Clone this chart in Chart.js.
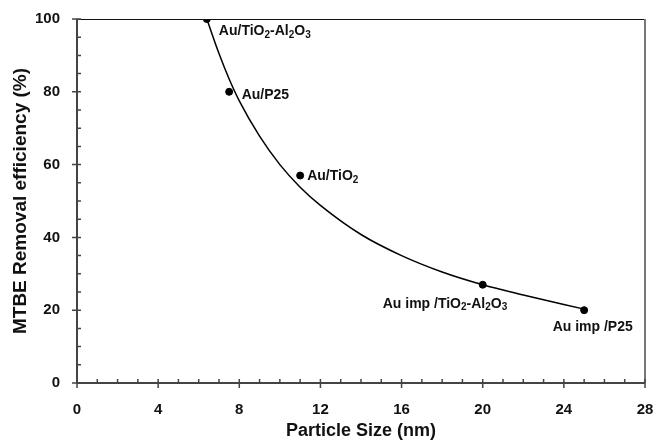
<!DOCTYPE html>
<html>
<head>
<meta charset="utf-8">
<script src="https://cdn.jsdelivr.net/npm/chart.js@4"></script>
<style>
	html, body { margin: 0; padding: 0; background: #fff; }
	#wrap { width: 657px; height: 442px; }
</style>
</head>
<body>
<div id="wrap"><canvas id="sizeChart" width="657" height="442"></canvas></div>
<script>
// measured catalysts
var sizes = [6.4, 7.5, 11, 20, 25];
var removal = [100, 80, 57, 27, 20];
var names = ["Au/TiO_2-Al_2O_3", "Au/P25", "Au/TiO_2", "Au imp /TiO_2-Al_2O_3", "Au imp /P25"];

// fitted curve
var fitSizes = [6.4, 7, 7.5, 8, 9, 10, 11, 12, 14, 16, 18, 20, 22, 25];
var fitRemoval = [100, 90.5, 83.5, 77.5, 67.8, 60, 53.8, 48.8, 40.8, 35, 30.5, 27, 24.2, 20.3];

// label placement relative to each point (px)
var labelOffsets = [[12, 12], [12.5, 3], [7, 0.5], [-100, 19], [-31.5, 17]];

var FONT = "'Liberation Sans', Arial, sans-serif";

function pairs(xs, ys) {
	return xs.map(function (x, i) { return { x: x, y: ys[i] }; });
}

// draws "TiO_2" style text with small subscripts
function drawRich(ctx, text, x, y) {
	var parts = text.split(/(_\d)/);
	ctx.textBaseline = "middle";
	ctx.textAlign = "left";
	parts.forEach(function (p) {
		if (!p) return;
		if (p[0] === "_") {
			ctx.font = "bold 10px " + FONT;
			ctx.fillText(p[1], x, y + 4);
			x += ctx.measureText(p[1]).width;
		} else {
			ctx.font = "bold 14px " + FONT;
			ctx.fillText(p, x, y);
			x += ctx.measureText(p).width;
		}
	});
}

var framePlugin = {
	id: "frame",
	afterDatasetsDraw: function (chart) {
		var ctx = chart.ctx;
		var a = chart.chartArea;
		var xs = chart.scales.x, ys = chart.scales.y;
		ctx.save();
		// top and right frame
		ctx.strokeStyle = "#111";
		ctx.lineWidth = 1;
		ctx.beginPath();
		ctx.moveTo(a.left, a.top + 0.5);
		ctx.lineTo(a.right, a.top + 0.5);
		ctx.stroke();
		ctx.strokeStyle = "#777";
		ctx.lineWidth = 2;
		ctx.beginPath();
		ctx.moveTo(a.right, a.top);
		ctx.lineTo(a.right, a.bottom);
		ctx.stroke();
		// left and bottom axes
		ctx.strokeStyle = "#444";
		ctx.lineWidth = 2;
		ctx.beginPath();
		ctx.moveTo(a.left, a.top);
		ctx.lineTo(a.left, a.bottom);
		ctx.lineTo(a.right, a.bottom);
		ctx.stroke();
		// ticks
		ctx.lineWidth = 1.5;
		ctx.beginPath();
		for (var v = 0; v <= 28; v++) {
			var px = xs.getPixelForValue(v);
			var major = v % 4 === 0;
			ctx.moveTo(px, a.bottom - 4);
			ctx.lineTo(px, a.bottom + (major ? 5 : 0));
		}
		for (var w = 0; w <= 100; w += 5) {
			var py = ys.getPixelForValue(w);
			var maj = w % 20 === 0;
			ctx.moveTo(a.left + 4, py);
			ctx.lineTo(a.left - (maj ? 5 : 0), py);
		}
		ctx.stroke();
		// point labels
		ctx.fillStyle = "#111";
		names.forEach(function (n, i) {
			var x = xs.getPixelForValue(sizes[i]) + labelOffsets[i][0];
			var y = ys.getPixelForValue(removal[i]) + labelOffsets[i][1];
			drawRich(ctx, n, x, y);
		});
		ctx.restore();
	}
};

var sizeChart = new Chart(document.getElementById("sizeChart"), {
	type: "scatter",
	data: {
		datasets: [
			{
				label: "fit",
				type: "line",
				data: pairs(fitSizes, fitRemoval),
				borderColor: "#000",
				borderWidth: 1.5,
				pointRadius: 0,
				cubicInterpolationMode: "monotone",
				fill: false
			},
			{
				label: "catalysts",
				data: pairs(sizes, removal),
				backgroundColor: "#000",
				borderColor: "#000",
				pointRadius: 3.5
			}
		]
	},
	options: {
		responsive: false,
		animation: false,
		events: [],
		layout: { padding: { top: 19, right: 0, left: 0, bottom: 0 } },
		plugins: { legend: { display: false }, tooltip: { enabled: false } },
		scales: {
			x: {
				type: "linear",
				min: 0,
				max: 28,
				grid: { display: false },
				border: { display: false },
				afterFit: function (s) {
					s.height = 59;
					s.paddingLeft = 0;
					s.paddingRight = 12;
				},
				ticks: {
					stepSize: 4,
					padding: 10,
					color: "#111",
					font: { family: FONT, size: 15, weight: "bold" }
				},
				title: {
					display: true,
					text: "Particle Size (nm)",
					color: "#111",
					padding: { top: 0, bottom: 0 },
					font: { family: FONT, size: 18, weight: "bold" }
				}
			},
			y: {
				min: 0,
				max: 100,
				grid: { display: false },
				border: { display: false },
				afterFit: function (s) { s.width = 77; },
				ticks: {
					stepSize: 20,
					padding: 9,
					color: "#111",
					font: { family: FONT, size: 15, weight: "bold" }
				},
				title: {
					display: true,
					text: "MTBE Removal efficiency (%)",
					color: "#111",
					padding: { top: 9, bottom: 0 },
					font: { family: FONT, size: 19, weight: "bold" }
				}
			}
		}
	},
	plugins: [framePlugin]
});
</script>
</body>
</html>
